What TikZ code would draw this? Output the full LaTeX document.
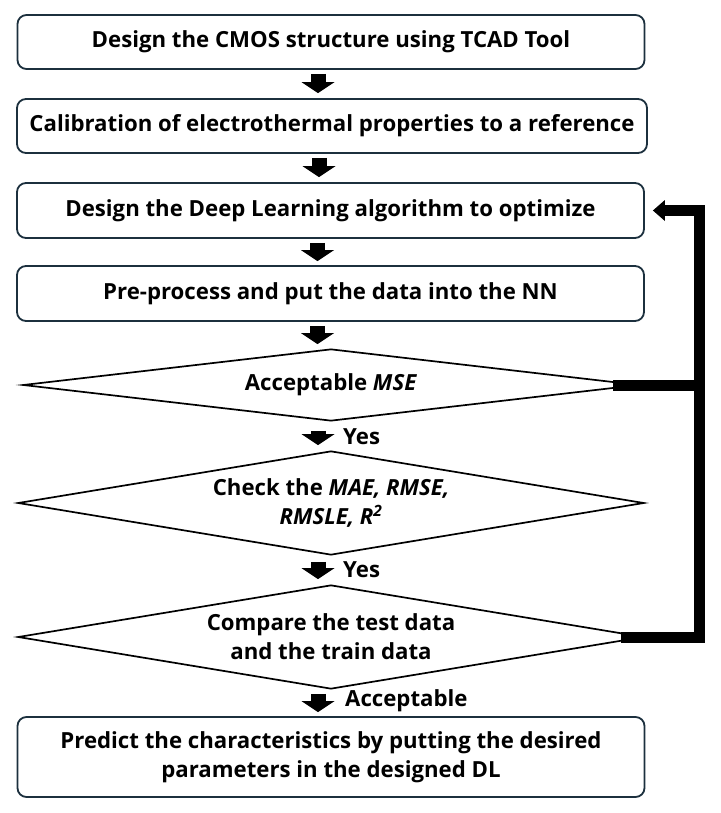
\documentclass[tikz,border=0pt]{standalone}
\usepackage{fontspec}
\setmainfont{Open Sans}
\usetikzlibrary{arrows.meta,shapes.geometric}
\definecolor{boxline}{RGB}{28,48,62}
\begin{document}
\begin{tikzpicture}[x=1pt,y=-1pt,
  every node/.style={font=\fontsize{22.2}{29}\selectfont\bfseries},
  stepbox/.style={draw=boxline, line width=1.8pt, rounded corners=9pt, minimum width=627pt, minimum height=54pt, inner sep=0pt, align=center},
  dia/.style={draw=black, line width=1.7pt, diamond, inner sep=0pt},
  lbl/.style={align=center, inner sep=0pt},
  flow/.style={line width=15pt, -{Triangle[width=33pt,length=11pt,line width=0pt]}},
  back/.style={line width=11pt, line join=miter, -{Triangle[width=21pt,length=12pt,line width=0pt]}},
  yeslbl/.style={anchor=west, inner sep=0pt}
]
\useasboundingbox (0,0) rectangle (720,813);

\node[stepbox] (b1) at (331,42) {Design the CMOS structure using TCAD Tool};
\node[stepbox, minimum width=630pt] (b2) at (332,126) {Calibration of electrothermal properties to a reference};
\node[stepbox, minimum height=55pt] (b3) at (330.5,210.5) {Design the Deep Learning algorithm to optimize};
\node[stepbox, minimum height=55pt] (b4) at (330.5,293.5) {Pre-process and put the data into the NN};

\node[dia, minimum width=616pt, minimum height=72pt] (d1) at (331,385) {};
\node[lbl] (t1) at (d1) {Acceptable \textit{MSE}};
\node[dia, minimum width=626pt, minimum height=104pt] (d2) at (331,503) {};
\node[lbl] (t2) at (d2) {Check the \textit{MAE, RMSE,}\\{\itshape RMSLE, R\textsuperscript{2}}};
\node[dia, minimum width=626pt, minimum height=104pt] (d3) at (331,637) {};
\node[lbl] (t3) at (d3) {Compare the test data\\and the train data};

\node[stepbox, minimum height=80pt] (b5) at (331,757) {Predict the characteristics by putting the desired\\parameters in the designed DL};

% down arrows
\draw[flow, shorten <=4pt, shorten >=5pt] ([xshift=-13pt]b1.south) -- ([xshift=-13pt]b1.south |- b2.north);
\draw[flow, shorten <=4pt, shorten >=5pt] ([xshift=-13pt]b2.south) -- ([xshift=-13pt]b2.south |- b3.north);
\draw[flow, shorten <=4pt, shorten >=4pt] ([xshift=-13pt]b3.south) -- ([xshift=-13pt]b3.south |- b4.north);
\draw[flow, shorten <=4pt, shorten >=4pt] ([xshift=-13pt]b4.south) -- ([xshift=-13pt]b4.south |- d1.north);
\draw[flow, shorten <=9pt, shorten >=5pt] ([xshift=-13pt]d1.south) -- ([xshift=-13pt]d1.south |- d2.north);
\draw[flow, shorten <=6pt, shorten >=5pt] ([xshift=-13pt]d2.south) -- ([xshift=-13pt]d2.south |- d3.north);
\draw[flow, shorten <=4pt, shorten >=4pt] ([xshift=-13pt]d3.south) -- ([xshift=-13pt]d3.south |- b5.north);

\node[yeslbl] (y1) at (343,437) {Yes};
\node[yeslbl] (y2) at (343,570) {Yes};
\node[yeslbl] (y3) at (345,701) {Acceptable};

% feedback
\coordinate (rail) at (699.5,0);
\draw[back] ([xshift=-24pt]d3.east) -- (d3.east -| rail) -- (rail |- b3.east) -- ([xshift=8pt]b3.east);
\draw[line width=11pt] ([xshift=-27pt]d1.east) -- (d1.east -| rail);
\end{tikzpicture}
\end{document}
